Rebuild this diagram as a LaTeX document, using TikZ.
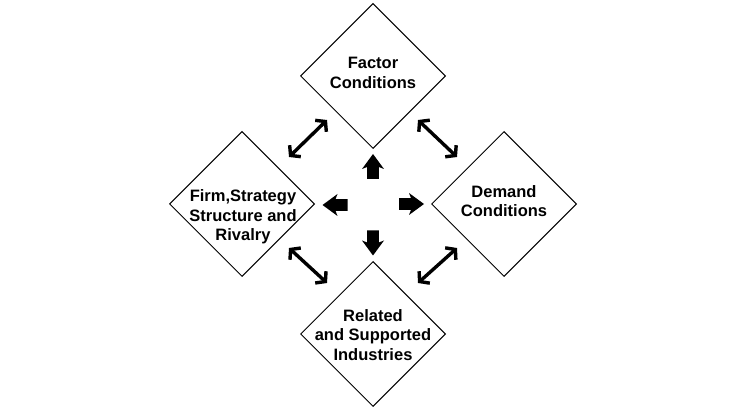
\documentclass[tikz,border=0pt]{standalone}
\usepackage{fontspec}
\setmainfont{Liberation Sans}
\usetikzlibrary{shapes.geometric,arrows.meta}
\begin{document}
\begin{tikzpicture}[x=1pt,y=-1pt,
  dia/.style={draw=black,line width=1pt,shape=diamond,minimum width=145pt,minimum height=145pt,inner sep=0pt,fill=white},
  lbl/.style={align=center,inner sep=0pt,font=\fontsize{16.5}{19.5}\selectfont\bfseries},
  blk/.style={fill=black},
  dbl/.style={line width=3.4pt,{Straight Barb[length=6.5pt,width=16pt]}-{Straight Barb[length=6.5pt,width=16pt]}}]
\useasboundingbox (0,0) rectangle (747,411);
\fill[white] (0,0) rectangle (747,411);
\node[dia] (top) at (373,76) {};
\node[dia] (right) at (504,204) {};
\node[dia] (left) at (242,204) {};
\node[dia] (bottom) at (373,334) {};
\node[lbl] (ttop) at (373,73) {Factor\\Conditions};
\node[lbl] (tright) at (504,201) {Demand\\Conditions};
\node[lbl] (tleft) at (243,217) {Firm,Strategy\\Structure and\\Rivalry};
\node[lbl] (tbottom) at (373,335) {Related\\and Supported\\Industries};
\foreach \px/\py/\ang in {373/166.5/90, 373/243/-90, 335/205/180, 411.5/204/0}{
  \fill[blk,shift={(\px,\py)},rotate=\ang]
    (-12.5,-5.8) -- (-0.5,-5.8) -- (-2.5,-11) -- (12.5,0) -- (-2.5,11) -- (-0.5,5.8) -- (-12.5,5.8) -- cycle;
}
\coordinate (tl1) at (289,157);
\coordinate (tl2) at (327,120);
\coordinate (tr1) at (418,120);
\coordinate (tr2) at (457,157);
\coordinate (bl1) at (289,248);
\coordinate (bl2) at (327,283);
\coordinate (br1) at (418,283);
\coordinate (br2) at (457,248);
\draw[dbl] (tl1) -- (tl2);
\draw[dbl] (tr1) -- (tr2);
\draw[dbl] (bl1) -- (bl2);
\draw[dbl] (br1) -- (br2);
\end{tikzpicture}
\end{document}
